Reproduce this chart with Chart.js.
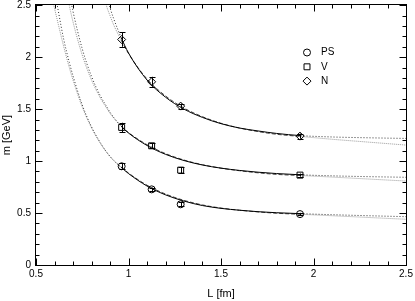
<!DOCTYPE html>
<html>
<head>
<meta charset="utf-8">
<script src="https://cdn.jsdelivr.net/npm/chart.js@4.4.1/dist/chart.umd.min.js"></script>
<style>
  html, body { margin: 0; padding: 0; background: #fff; }
  #wrap { width: 415px; height: 301px; position: relative; }
</style>
</head>
<body>
<div id="wrap"><canvas id="chart"></canvas></div>
<script>
// ── measured masses vs box size ──────────────────────────────
const latL   = [0.963, 1.125, 1.282, 1.927];
const psMass = [0.95, 0.728, 0.584, 0.49];
const psErr  = [0.03, 0.015, 0.02, 0.012];
const vMass  = [1.324, 1.147, 0.913, 0.865];
const vErr   = [0.045, 0.025, 0.03, 0.015];
const nMass  = [2.17, 1.763, 1.529, 1.24];
const nErr   = [0.07, 0.048, 0.025, 0.025];

// ── fit curves, two fits per channel ─────────────────────────
const fitL   = [0.58, 0.60, 0.62, 0.65, 0.68, 0.70, 0.75, 0.80, 0.85, 0.88, 0.90, 0.92, 0.96, 1.00, 1.10, 1.20, 1.30, 1.40, 1.50, 1.60, 1.70, 1.80, 1.93, 2.10, 2.30, 2.50];
const psFitA = [2.92, 2.66, 2.45, 2.17, 1.95, 1.82, 1.54, 1.33, 1.17, 1.09, 1.045, 1.005, 0.94, 0.88, 0.76, 0.675, 0.615, 0.572, 0.545, 0.527, 0.513, 0.503, 0.494, 0.484, 0.474, 0.465];
const psFitB = [2.62, 2.47, 2.32, 2.10, 1.90, 1.78, 1.52, 1.32, 1.165, 1.09, 1.045, 1.007, 0.943, 0.885, 0.768, 0.683, 0.622, 0.578, 0.548, 0.527, 0.511, 0.498, 0.488, 0.474, 0.457, 0.44];
const vFitA  = [null, null, 3.35, 2.95, 2.62, 2.44, 2.08, 1.815, 1.62, 1.53, 1.47, 1.42, 1.335, 1.27, 1.15, 1.065, 1.005, 0.962, 0.932, 0.91, 0.893, 0.88, 0.868, 0.858, 0.85, 0.844];
const vFitB  = [null, null, 3.15, 2.80, 2.50, 2.34, 2.02, 1.78, 1.60, 1.515, 1.46, 1.415, 1.338, 1.275, 1.158, 1.072, 1.01, 0.965, 0.932, 0.907, 0.887, 0.872, 0.861, 0.846, 0.827, 0.808];
const nFitA  = [null, null, null, null, null, null, null, null, 2.80, 2.595, 2.475, 2.37, 2.19, 2.04, 1.78, 1.615, 1.50, 1.42, 1.36, 1.318, 1.29, 1.266, 1.245, 1.232, 1.224, 1.218];
const nFitB  = [null, null, null, null, null, null, null, null, 2.72, 2.50, 2.40, 2.31, 2.165, 2.035, 1.79, 1.627, 1.51, 1.427, 1.364, 1.318, 1.284, 1.258, 1.237, 1.21, 1.182, 1.154];
const fitRange = [0.96, 1.93];

// ── axes ─────────────────────────────────────────────────────
const xTicks = [0.5, 1, 1.5, 2, 2.5];
const yTicks = [0, 0.5, 1, 1.5, 2, 2.5];
const legendLabels = ['PS', 'V', 'N'];
const legendStyles = ['circle', 'rect', 'rectRot'];

const FONT = 'Liberation Sans, Arial, Helvetica, sans-serif';

function inFit(ctx) {
  return ctx.p0.parsed.x >= fitRange[0] - 1e-6 && ctx.p1.parsed.x <= fitRange[1] + 1e-6;
}

function fitSolid(ys) {
  return {
    data: fitL.map((x, i) => ({ x, y: ys[i] })),
    borderColor: '#000', borderWidth: 1, pointRadius: 0, fill: false,
    cubicInterpolationMode: 'monotone', spanGaps: false,
    segment: {
      borderColor: c => inFit(c) ? '#000' : '#333',
      borderDash: c => inFit(c) ? [] : [1, 2]
    }
  };
}

function fitDashed(ys) {
  return {
    data: fitL.map((x, i) => ({ x, y: ys[i] })),
    borderColor: '#444', borderWidth: 1, pointRadius: 0, fill: false,
    cubicInterpolationMode: 'monotone', spanGaps: false,
    segment: {
      borderColor: c => inFit(c) ? '#444' : '#999',
      borderDash: c => inFit(c) ? [4, 2] : [1, 1]
    }
  };
}

function points(ms, style, r) {
  return {
    data: latL.map((x, i) => ({ x, y: ms[i] })),
    showLine: false, pointStyle: style, pointRadius: r,
    pointBorderColor: '#000', pointBackgroundColor: 'rgba(0,0,0,0)', pointBorderWidth: 1
  };
}

// error bars, drawn through the scales
const errorBars = {
  id: 'errorBars',
  afterDatasetsDraw(chart) {
    const { ctx, scales: { x, y } } = chart;
    ctx.save();
    ctx.strokeStyle = '#000';
    ctx.lineWidth = 1;
    [[psMass, psErr], [vMass, vErr], [nMass, nErr]].forEach(([ms, es]) => {
      latL.forEach((L, i) => {
        const px = Math.round(x.getPixelForValue(L)) + 0.5;
        const y0 = y.getPixelForValue(ms[i] - es[i]);
        const y1 = y.getPixelForValue(ms[i] + es[i]);
        ctx.beginPath();
        ctx.moveTo(px, y0); ctx.lineTo(px, y1);
        ctx.moveTo(px - 3, Math.round(y0) + 0.5); ctx.lineTo(px + 3, Math.round(y0) + 0.5);
        ctx.moveTo(px - 3, Math.round(y1) + 0.5); ctx.lineTo(px + 3, Math.round(y1) + 0.5);
        ctx.stroke();
      });
    });
    ctx.restore();
  }
};

// frame + inward ticks on all four sides, and the legend
const frame = {
  id: 'frame',
  afterDraw(chart) {
    const { ctx, chartArea: a, scales: { x, y } } = chart;
    ctx.save();
    ctx.strokeStyle = '#000';
    ctx.lineWidth = 1;
    const L = Math.round(a.left) - 0.5, R = Math.round(a.right) + 0.5;
    const T = Math.round(a.top) - 0.5, B = Math.round(a.bottom) + 0.5;
    ctx.strokeRect(L, T, R - L, B - T);
    ctx.beginPath();
    for (let i = 5; i <= 25; i++) {
      const len = i % 5 === 0 ? 7 : 4;
      const px = Math.round(x.getPixelForValue(i / 10)) + 0.5;
      ctx.moveTo(px, B); ctx.lineTo(px, B - len);
      ctx.moveTo(px, T); ctx.lineTo(px, T + len);
    }
    for (let i = 0; i <= 25; i++) {
      const len = i % 5 === 0 ? 7 : 4;
      const py = Math.round(y.getPixelForValue(i / 10)) + 0.5;
      ctx.moveTo(L, py); ctx.lineTo(L + len, py);
      ctx.moveTo(R, py); ctx.lineTo(R - len, py);
    }
    ctx.stroke();

    // legend (open markers)
    ctx.font = '10px ' + FONT;
    ctx.textBaseline = 'middle';
    const radii = [3.5, 4.2, 4];
    legendLabels.forEach((lab, i) => {
      const ly = 52.5 + i * 14.3;
      ctx.fillStyle = 'rgba(0,0,0,0)';
      ctx.strokeStyle = '#000';
      Chart.helpers.drawPoint(ctx, { pointStyle: legendStyles[i], radius: radii[i], borderWidth: 1 }, 307, ly);
      ctx.fillStyle = '#000';
      ctx.fillText(lab, 321, ly);
    });
    ctx.restore();
  }
};

new Chart(document.getElementById('chart'), {
  type: 'line',
  data: {
    datasets: [
      points(psMass, 'circle', 3.5),
      points(vMass, 'rect', 4.2),
      points(nMass, 'rectRot', 4),
      fitSolid(psFitA), fitDashed(psFitB),
      fitSolid(vFitA), fitDashed(vFitB),
      fitSolid(nFitA), fitDashed(nFitB)
    ]
  },
  options: {
    responsive: true,
    maintainAspectRatio: false,
    animation: false,
    layout: { padding: { top: 5, right: 9, left: 0, bottom: 0 } },
    plugins: { legend: { display: false }, tooltip: { enabled: false } },
    scales: {
      x: {
        type: 'linear', min: 0.5, max: 2.5,
        afterBuildTicks: s => { s.ticks = xTicks.map(v => ({ value: v })); },
        afterFit: s => { s.height = 36; s.paddingLeft = 0; s.paddingRight = 0; },
        grid: { display: false, drawTicks: false },
        border: { display: false },
        ticks: { callback: v => String(v), color: '#000', padding: 3, maxRotation: 0, font: { family: FONT, size: 10 } },
        title: { display: true, text: 'L [fm]', color: '#000', padding: 0, font: { family: FONT, size: 11 } }
      },
      y: {
        type: 'linear', min: 0, max: 2.5,
        afterBuildTicks: s => { s.ticks = yTicks.map(v => ({ value: v })); },
        afterFit: s => { s.width = 36; s.paddingTop = 0; s.paddingBottom = 0; },
        grid: { display: false, drawTicks: false },
        border: { display: false },
        ticks: { callback: v => String(v), color: '#000', padding: 5, font: { family: FONT, size: 10 } },
        title: { display: true, text: 'm [GeV]', color: '#000', padding: 0, font: { family: FONT, size: 11 } }
      }
    }
  },
  plugins: [errorBars, frame]
});
</script>
</body>
</html>
